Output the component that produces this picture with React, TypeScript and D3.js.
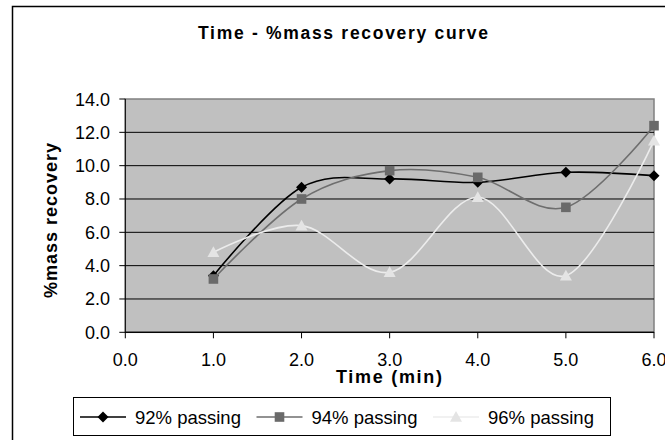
import React from "react";
import * as d3 from "d3";

const times = [1, 2, 3, 4, 5, 6];
const pass92 = [3.4, 8.7, 9.2, 9.0, 9.6, 9.4];
const pass94 = [3.2, 8.0, 9.7, 9.3, 7.5, 12.4];
const pass96 = [4.8, 6.4, 3.6, 8.1, 3.4, 11.5];
const seriesNames = ["92% passing", "94% passing", "96% passing"];
const xTicks = [0, 1, 2, 3, 4, 5, 6];
const yTicks = [0, 2, 4, 6, 8, 10, 12, 14];
const titleText = "Time - %mass recovery curve";
const xTitle = "Time (min)";
const yTitle = "%mass recovery";

const FONT = "'Liberation Sans', Arial, sans-serif";

export default function App() {
  const W = 665, H = 440;
  const L = 125.3, R = 654, T = 99, B = 332.3;
  const x = d3.scaleLinear().domain([0, 6]).range([L, R]);
  const y = d3.scaleLinear().domain([0, 14]).range([B, T]);

  const series = [
    { name: seriesNames[0], values: pass92, line: "#000000", fill: "#000000", marker: "diamond" },
    { name: seriesNames[1], values: pass94, line: "#6e6e6e", fill: "#6a6a6a", marker: "square" },
    { name: seriesNames[2], values: pass96, line: "#ececec", fill: "#e4e4e4", marker: "triangle" },
  ];

  const lineGen = d3
    .line<[number, number]>()
    .x((d) => x(d[0]))
    .y((d) => y(d[1]))
    .curve(d3.curveCardinal.tension(0));

  const marker = (type: string, cx: number, cy: number, fill: string, key: any) => {
    if (type === "diamond") {
      const s = 5.5;
      return (
        <path key={key} d={`M${cx},${cy - s}L${cx + s},${cy}L${cx},${cy + s}L${cx - s},${cy}Z`} fill={fill} />
      );
    }
    if (type === "square") {
      const s = 4.8;
      return <rect key={key} x={cx - s} y={cy - s} width={2 * s} height={2 * s} fill={fill} />;
    }
    const s = 6;
    return (
      <path key={key} d={`M${cx},${cy - s}L${cx + s},${cy + s * 0.8}L${cx - s},${cy + s * 0.8}Z`} fill={fill} />
    );
  };

  const legendX0 = 80;
  const legendStride = 176.5;
  const legendY = 417;

  return (
    <svg width={W} height={H} style={{ position: "absolute", left: 0, top: 0 }} fontFamily={FONT}>
      <rect x={0} y={0} width={W} height={H} fill="#ffffff" />
      <rect x={12.5} y={6.5} width={800} height={600} fill="none" stroke="#000" strokeWidth={1.5} />

      <text x={343} y={38.5} textAnchor="middle" fontSize={17.5} fontWeight="bold" textLength={290} lengthAdjust="spacing">
        {titleText}
      </text>

      {/* plot area */}
      <rect x={L} y={T} width={R - L} height={B - T} fill="#c0c0c0" stroke="#808080" strokeWidth={1.5} />
      {yTicks.map((t) => (
        <line key={"g" + t} x1={L} x2={R} y1={y(t)} y2={y(t)} stroke="#000" strokeWidth={1} opacity={t === 14 ? 0 : 1} />
      ))}
      <line x1={L} x2={L} y1={T} y2={B} stroke="#000" strokeWidth={1} />
      <line x1={L} x2={R} y1={B} y2={B} stroke="#000" strokeWidth={1} />

      {yTicks.map((t) => (
        <g key={"yt" + t}>
          <line x1={L - 6} x2={L} y1={y(t)} y2={y(t)} stroke="#000" strokeWidth={1} />
          <text x={110} y={y(t) + 6.5} textAnchor="end" fontSize={18}>
            {t.toFixed(1)}
          </text>
        </g>
      ))}
      {xTicks.map((t) => (
        <g key={"xt" + t}>
          <line x1={x(t)} x2={x(t)} y1={B} y2={B + 6} stroke="#000" strokeWidth={1} />
          <text x={x(t)} y={366} textAnchor="middle" fontSize={18}>
            {t.toFixed(1)}
          </text>
        </g>
      ))}

      <text x={389} y={382.5} textAnchor="middle" fontSize={18} fontWeight="bold" textLength={106} lengthAdjust="spacing">
        {xTitle}
      </text>
      <text
        transform={`translate(56.5,220.5) rotate(-90)`}
        textAnchor="middle"
        fontSize={18}
        fontWeight="bold"
        textLength={155}
        lengthAdjust="spacing"
      >
        {yTitle}
      </text>

      {series.map((s, si) => {
        const pts: [number, number][] = times.map((t, i) => [t, s.values[i]]);
        return (
          <g key={"s" + si}>
            <path d={lineGen(pts) || ""} fill="none" stroke={s.line} strokeWidth={1.6} />
            {pts.map((p, i) => marker(s.marker, x(p[0]), y(p[1]), s.fill, i))}
          </g>
        );
      })}

      {/* legend */}
      <rect x={73.5} y={397.5} width={537} height={38} fill="#fff" stroke="#000" strokeWidth={1} />
      {series.map((s, i) => {
        const lx = legendX0 + i * legendStride;
        return (
          <g key={"l" + i}>
            <line x1={lx} x2={lx + 46} y1={legendY} y2={legendY} stroke={s.line} strokeWidth={1.6} />
            {marker(s.marker, lx + 23, legendY, s.fill, "m")}
            <text x={lx + 55} y={legendY + 6.5} fontSize={18.5}>
              {s.name}
            </text>
          </g>
        );
      })}
    </svg>
  );
}
